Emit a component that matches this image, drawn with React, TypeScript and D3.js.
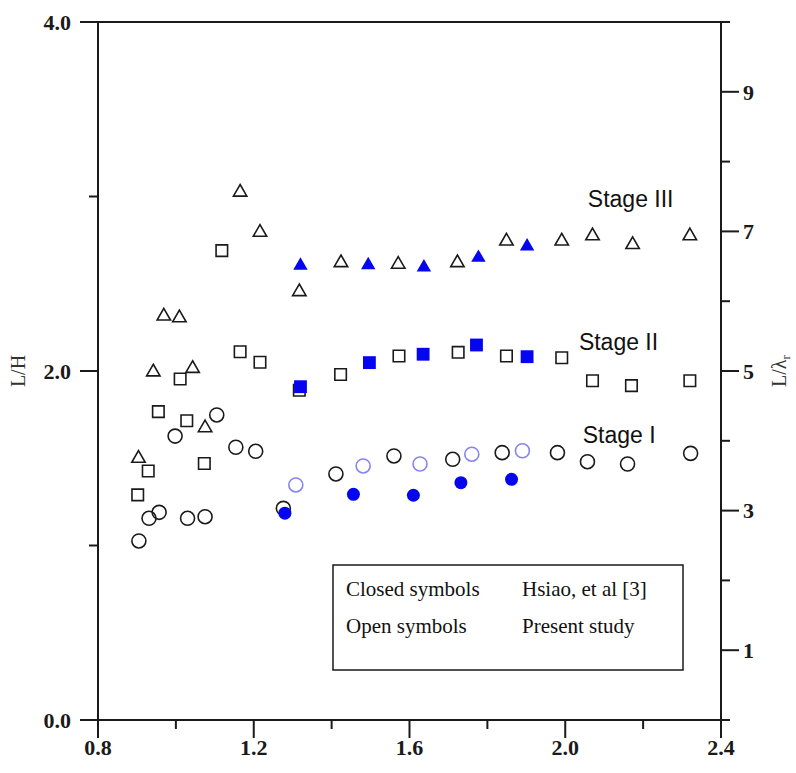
import * as d3 from "d3";
import React from "react";

// Stage I (circles)
const s1OpenX = [0.905, 0.931, 0.957, 0.998, 1.03, 1.075, 1.105, 1.154, 1.205, 1.276, 1.411, 1.56, 1.711, 1.838, 1.98, 2.057, 2.16, 2.322];
const s1OpenY = [1.026, 1.156, 1.19, 1.627, 1.156, 1.165, 1.748, 1.563, 1.54, 1.213, 1.41, 1.513, 1.494, 1.532, 1.532, 1.48, 1.467, 1.528];
const s1LightX = [1.308, 1.481, 1.627, 1.76, 1.89];
const s1LightY = [1.347, 1.456, 1.467, 1.523, 1.543];
const s1ClosedX = [1.28, 1.456, 1.61, 1.732, 1.862];
const s1ClosedY = [1.185, 1.293, 1.288, 1.36, 1.379];

// Stage II (squares)
const s2OpenX = [0.902, 0.929, 0.955, 1.011, 1.028, 1.073, 1.118, 1.165, 1.216, 1.317, 1.423, 1.573, 1.725, 1.849, 1.991, 2.07, 2.17, 2.32];
const s2OpenY = [1.29, 1.427, 1.767, 1.954, 1.715, 1.47, 2.69, 2.11, 2.05, 1.89, 1.98, 2.086, 2.107, 2.086, 2.076, 1.944, 1.916, 1.944];
const s2ClosedX = [1.32, 1.497, 1.635, 1.772, 1.902];
const s2ClosedY = [1.91, 2.048, 2.096, 2.149, 2.082];

// Stage III (triangles)
const s3OpenX = [0.904, 0.942, 0.969, 1.009, 1.043, 1.075, 1.165, 1.216, 1.317, 1.424, 1.571, 1.723, 1.849, 1.991, 2.07, 2.173, 2.32];
const s3OpenY = [1.505, 2.0, 2.32, 2.31, 2.02, 1.68, 3.03, 2.8, 2.46, 2.626, 2.617, 2.626, 2.75, 2.75, 2.78, 2.73, 2.78];
const s3ClosedX = [1.32, 1.494, 1.637, 1.777, 1.902];
const s3ClosedY = [2.61, 2.613, 2.6, 2.655, 2.72];

const xTicks = [0.8, 1.2, 1.6, 2.0, 2.4];
const xMinor = [1.0, 1.4, 1.8, 2.2];
const yTicks = [0, 2, 4];
const yMinor = [1, 3];
const rTicks = [1, 3, 5, 7, 9];
const rMinor = [0, 2, 4, 6, 8, 10];

const stageLabels = ["Stage III", "Stage II", "Stage I"];
const stageLabelX = [2.058, 2.035, 2.045];
const stageLabelY = [2.94, 2.12, 1.587];

const legendLeft = ["Closed symbols", "Open symbols"];
const legendRight = ["Hsiao, et al [3]", "Present study"];

const BLUE = "#0505f0";
const LIGHT = "#8585ee";
const INK = "#1a1a1a";
const SERIF = "'Liberation Serif', 'Times New Roman', serif";
const SANS = "'Liberation Sans', Arial, sans-serif";

const zip = (xs: number[], ys: number[]) => xs.map((x, i) => [x, ys[i]] as [number, number]);

export default function App() {
  const x = d3.scaleLinear().domain([0.8, 2.4]).range([98, 721]);
  const y = d3.scaleLinear().domain([0, 4]).range([720, 22]);
  const yr = d3.scaleLinear().domain([0, 10]).range([720, 22]);

  const sq = d3.symbol().type(d3.symbolSquare);
  const tri = d3.symbol().type(d3.symbolTriangle);

  const circles = (pts: [number, number][], r: number, fill: string, stroke: string, key: string) =>
    pts.map((p, i) => (
      <circle key={key + i} cx={x(p[0])} cy={y(p[1])} r={r} fill={fill} stroke={stroke} strokeWidth={1.6} />
    ));
  const symbols = (pts: [number, number][], gen: any, size: number, fill: string, stroke: string, key: string, dy = 0) =>
    pts.map((p, i) => (
      <path key={key + i} d={gen.size(size)()} transform={`translate(${x(p[0])},${y(p[1]) + dy})`}
        fill={fill} stroke={stroke} strokeWidth={1.6} />
    ));

  return (
    <svg width={796} height={773} style={{ position: "fixed", left: 0, top: 0, background: "#fff" }}>
      {/* frame */}
      <g stroke={INK} strokeWidth={2} fill="none">
        <line x1={x(0.8)} x2={x(2.4)} y1={y(4)} y2={y(4)} />
        <line x1={x(0.8)} x2={x(2.4)} y1={y(0)} y2={y(0)} />
        <line x1={x(0.8)} x2={x(0.8)} y1={y(4)} y2={y(0)} />
        <line x1={x(2.4)} x2={x(2.4)} y1={y(4)} y2={y(0)} />
        {yTicks.map((t) => <line key={"yt" + t} x1={x(0.8) - 18} x2={x(0.8)} y1={y(t)} y2={y(t)} />)}
        {yMinor.map((t) => <line key={"ym" + t} x1={x(0.8) - 9} x2={x(0.8)} y1={y(t)} y2={y(t)} />)}
        {rTicks.map((t) => <line key={"rt" + t} x1={x(2.4)} x2={x(2.4) + 18} y1={yr(t)} y2={yr(t)} />)}
        {rMinor.map((t) => <line key={"rm" + t} x1={x(2.4)} x2={x(2.4) + 9} y1={yr(t)} y2={yr(t)} />)}
        {xTicks.map((t) => <line key={"xt" + t} x1={x(t)} x2={x(t)} y1={y(0)} y2={y(0) + 18} />)}
        {xMinor.map((t) => <line key={"xm" + t} x1={x(t)} x2={x(t)} y1={y(0)} y2={y(0) + 9} />)}
      </g>
      <g fontFamily={SERIF} fontWeight="bold" fontSize={22} fill={INK}>
        {yTicks.map((t) => (
          <text key={"yl" + t} x={x(0.8) - 27} y={y(t)} dy="0.35em" textAnchor="end">{d3.format(".1f")(t)}</text>
        ))}
        {rTicks.map((t) => (
          <text key={"rl" + t} x={x(2.4) + 22} y={yr(t)} dy="0.35em" textAnchor="start">{t}</text>
        ))}
        {xTicks.map((t) => (
          <text key={"xl" + t} x={x(t)} y={y(0) + 35} textAnchor="middle">{d3.format(".1f")(t)}</text>
        ))}
      </g>
      <text transform={`translate(25,${y(2)}) rotate(-90)`} textAnchor="middle" fontFamily={SERIF} fontSize={20} fill="#333">L/H</text>
      <text transform={`translate(786,${y(2)}) rotate(-90)`} textAnchor="middle" fontFamily={SERIF} fontSize={20} fill="#333">
        L/λ<tspan fontSize={13} dy={4}>r</tspan>
      </text>

      {/* markers: open first, filled on top */}
      {circles(zip(s1OpenX, s1OpenY), 7, "none", INK, "c1")}
      {circles(zip(s1LightX, s1LightY), 7, "none", LIGHT, "c2")}
      {symbols(zip(s2OpenX, s2OpenY), sq, 132, "none", INK, "q1")}
      {symbols(zip(s3OpenX, s3OpenY), tri, 78, "none", INK, "t1", 1)}
      {circles(zip(s1ClosedX, s1ClosedY), 6.5, BLUE, "none", "c3")}
      {symbols(zip(s2ClosedX, s2ClosedY), sq, 165, BLUE, "none", "q2")}
      {symbols(zip(s3ClosedX, s3ClosedY), tri, 90, BLUE, "none", "t2", 1)}

      {stageLabels.map((s, i) => (
        <text key={s} x={x(stageLabelX[i])} y={y(stageLabelY[i])} fontFamily={SANS} fontSize={23} fill="#111">{s}</text>
      ))}

      {/* legend */}
      <rect x={333} y={565} width={350} height={105} fill="#fff" stroke={INK} strokeWidth={1.5} />
      <g fontFamily={SERIF} fontSize={21} fill="#111">
        {legendLeft.map((s, i) => <text key={s} x={346} y={596 + i * 37}>{s}</text>)}
        {legendRight.map((s, i) => <text key={s} x={522} y={596 + i * 37}>{s}</text>)}
      </g>
    </svg>
  );
}
